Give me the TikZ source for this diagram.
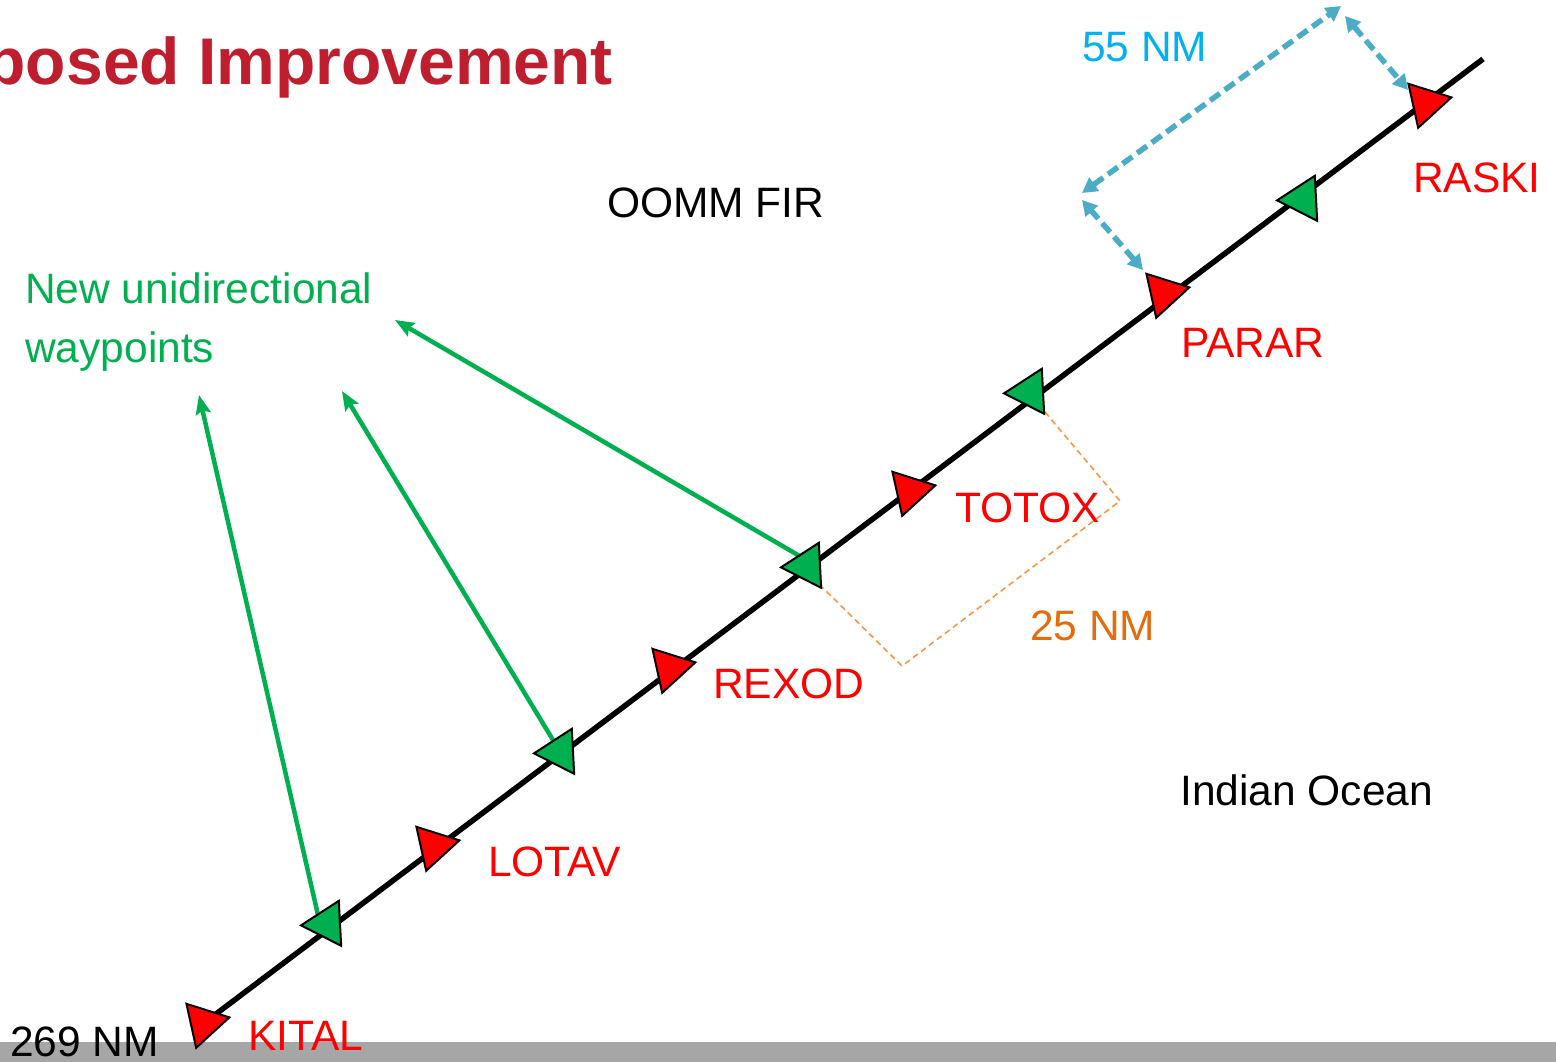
\documentclass[tikz,border=0pt]{standalone}
\usepackage{fontspec}
\setmainfont{Liberation Sans}
\usetikzlibrary{shapes.geometric,arrows.meta}
\definecolor{titlered}{HTML}{BE1E2D}
\definecolor{wpred}{HTML}{FF0000}
\definecolor{wpgreen}{HTML}{00B050}
\definecolor{dimblue}{HTML}{4BACC6}
\definecolor{txtblue}{HTML}{00B0F0}
\definecolor{dimorange}{HTML}{F79646}
\definecolor{txtorange}{HTML}{E46C0A}
\definecolor{bargray}{HTML}{A6A6A6}
\begin{document}
\begin{tikzpicture}[x=1pt,y=-1pt,
  lbl/.style={anchor=base west,inner sep=0pt,font=\fontsize{42.5}{50}\selectfont},
  redtri/.style={regular polygon,regular polygon sides=3,minimum size=52pt,inner sep=0pt,
     fill=wpred,draw=black,line width=2pt,rotate=-77.5},
  greentri/.style={regular polygon,regular polygon sides=3,minimum size=52pt,inner sep=0pt,
     fill=wpgreen,draw=black,line width=2pt,rotate=93},
  route/.style={line width=5.5pt,black},
  garrow/.style={line width=4.5pt,wpgreen,-{Stealth[length=19pt,width=15pt,inset=3pt]}},
  barrow/.style={line width=5.5pt,dimblue,dash pattern=on 12pt off 6pt,
     {Triangle[length=15pt,width=16pt]}-{Triangle[length=15pt,width=16pt]}},
  obracket/.style={line width=1.6pt,dimorange,dash pattern=on 6pt off 4pt}
]
\useasboundingbox (0,0) rectangle (1556,1062);
\clip (0,0) rectangle (1556,1062);

% bottom bar
\fill[bargray] (0,1042) rectangle (1556,1062);

% title
\node[anchor=base east,inner sep=0pt,text=titlered,font=\fontsize{66}{72}\selectfont\bfseries] (title) at (613,85) {posed Improvement};

% waypoint positions
\coordinate (pK) at (204,1023);
\coordinate (pG1) at (327,924);
\coordinate (pL) at (434,846);
\coordinate (pG2) at (560,752);
\coordinate (pR) at (670,668);
\coordinate (pG3) at (807,566);
\coordinate (pT) at (910,491);
\coordinate (pG4) at (1030,392);
\coordinate (pP) at (1164,293);
\coordinate (pG5) at (1303,199);
\coordinate (pRA) at (1426,103);
\coordinate (pEnd) at (1483,59);

% route line
\draw[route] (pK) -- (pEnd);

% green arrows to label
\coordinate (t1) at (318,915);
\coordinate (t2) at (556,745);
\coordinate (t3) at (803,558);
\coordinate (h1) at (199,395);
\coordinate (h2) at (342,391);
\coordinate (h3) at (395,320);
\draw[garrow] (t1) -- (h1);
\draw[garrow] (t2) -- (h2);
\draw[garrow] (t3) -- (h3);

% orange 25 NM bracket
\coordinate (o1) at (1045,412);
\coordinate (o2) at (1120,501);
\coordinate (o3) at (902,666);
\coordinate (o4) at (822,587);
\draw[obracket] (o1) -- (o2) -- (o3) -- (o4);

% blue 55 NM dimension
\coordinate (b1) at (1143,270);
\coordinate (b2) at (1082,200);
\coordinate (b3) at (1082,193);
\coordinate (b4) at (1341,6);
\coordinate (b5) at (1345,16);
\coordinate (b6) at (1408,90);
\draw[barrow] (b1) -- (b2);
\draw[barrow] (b3) -- (b4);
\draw[barrow] (b5) -- (b6);

% waypoint triangles
\node[redtri] (K) at (pK) {};
\node[greentri] (G1) at (pG1) {};
\node[redtri] (L) at (pL) {};
\node[greentri] (G2) at (pG2) {};
\node[redtri] (R) at (pR) {};
\node[greentri] (G3) at (pG3) {};
\node[redtri] (T) at (pT) {};
\node[greentri] (G4) at (pG4) {};
\node[redtri] (P) at (pP) {};
\node[greentri] (G5) at (pG5) {};
\node[redtri] (RA) at (pRA) {};

% labels
\node[lbl,text=txtblue] (n55) at (1082,62) {55 NM};
\node[lbl,text=wpred] (lRA) at (1413,193) {RASKI};
\node[lbl] (fir) at (607,217) {OOMM FIR};
\node[lbl,text=wpgreen] (new1) at (25,303) {New unidirectional};
\node[lbl,text=wpgreen] (new2) at (25,362) {waypoints};
\node[lbl,text=wpred] (lP) at (1181,357) {PARAR};
\node[lbl,text=wpred] (lT) at (955,522) {TOTOX};
\node[lbl,text=txtorange] (n25) at (1030,640) {25 NM};
\node[lbl,text=wpred] (lR) at (713,698) {REXOD};
\node[lbl] (ocean) at (1180,805) {Indian Ocean};
\node[lbl,text=wpred] (lL) at (488,876) {LOTAV};
\node[lbl,text=wpred] (lK) at (248,1050) {KITAL};
\node[lbl] (n269) at (10,1056) {269 NM};
\end{tikzpicture}
\end{document}
